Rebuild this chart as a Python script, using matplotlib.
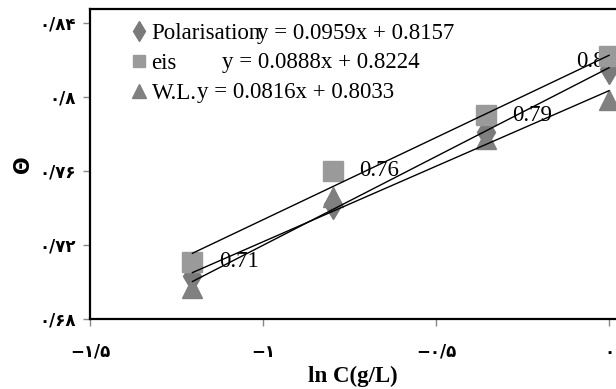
import numpy as np
import matplotlib
matplotlib.use("Agg")
import matplotlib.pyplot as plt

# ln C values (C = 0.3, 0.45, 0.7, 1 g/L)
lnc = [-1.204, -0.799, -0.357, 0.0]

polarisation = [0.703, 0.742, 0.781, 0.815]
eis = [0.711, 0.760, 0.790, 0.822]
wl = [0.697, 0.746, 0.777, 0.798]

series_names = ["Polarisation", "eis", "W.L."]
slopes = [0.0959, 0.0888, 0.0816]
intercepts = [0.8157, 0.8224, 0.8033]
eis_labels = ["0.71", "0.76", "0.79", "0.82"]

xticks = [-1.5, -1.0, -0.5, 0.0]
xticklabels = ["\u2212\u06f1/\u06f5", "\u2212\u06f1", "\u2212\u06f0/\u06f5", "\u06f0"]
yticks = [0.68, 0.72, 0.76, 0.80, 0.84]
yticklabels = ["\u06f0/\u06f6\u06f8", "\u06f0/\u06f7\u06f2", "\u06f0/\u06f7\u06f6",
               "\u06f0/\u06f8", "\u06f0/\u06f8\u06f4"]

serif = ["Liberation Serif", "DejaVu Serif"]
fs = 16.5

fig = plt.figure(figsize=(6.16, 3.89), dpi=100)
ax = fig.add_axes([90 / 616, 1 - 319 / 389, 1 - 90 / 616, 310 / 389])

ax.plot(lnc, polarisation, linestyle="none", marker="d", markersize=15,
        color="#7a7a7a", zorder=2, label=series_names[0])
ax.plot(lnc, eis, linestyle="none", marker="s", markersize=14,
        color="#9a9a9a", zorder=2, label=series_names[1])
ax.plot(lnc, wl, linestyle="none", marker="^", markersize=15,
        color="#808080", zorder=2, label=series_names[2])

# trendlines
xx = np.array([lnc[0], lnc[-1]])
for m, b in zip(slopes, intercepts):
    ax.plot(xx, m * xx + b, color="black", linewidth=1.0, zorder=3)

# data labels for eis
offsets = [(19, 0), (19, 0), (19, 0), (-24, -4)]
for x, y, s, off in zip(lnc, eis, eis_labels, offsets):
    ax.annotate(s, (x, y), xytext=off, textcoords="offset points",
                ha="left", va="center", fontsize=fs, family=serif, zorder=1)

# trendline equations
eq_pos = [(0.3175, 0.922), (0.251, 0.829), (0.203, 0.732)]
for m, b, p in zip(slopes, intercepts, eq_pos):
    ax.text(p[0], p[1], "y = %sx + %s" % (m, b), transform=ax.transAxes,
            ha="left", va="center", fontsize=fs, family=serif)

leg = ax.legend(loc="upper left", bbox_to_anchor=(0.08, 0.955), frameon=False,
                prop={"family": serif, "size": fs}, markerscale=0.65,
                handlelength=0.6, handletextpad=0.25, labelspacing=0.4,
                borderpad=0, borderaxespad=0)

ax.set_xlim(-1.5, 0.02)
ax.set_ylim(0.68, 0.8474)
ax.set_xticks(xticks)
ax.set_xticklabels(xticklabels, family=["DejaVu Sans"], fontsize=12, fontweight="bold")
ax.set_yticks(yticks)
ax.set_yticklabels(yticklabels, family=["DejaVu Sans"], fontsize=12, fontweight="bold")
ax.tick_params(direction="out", length=5, width=1, color="#888888")
ax.tick_params(axis="x", pad=12)
ax.tick_params(axis="y", pad=5)

for s in ["left", "bottom", "top"]:
    ax.spines[s].set_linewidth(1.6)
ax.spines["right"].set_visible(False)

ax.set_xlabel("ln C(g/L)", family=serif, fontsize=fs, fontweight="bold", labelpad=4)
ax.set_ylabel("\u0398", family=["DejaVu Sans"], fontsize=15, fontweight="bold", labelpad=5)

fig.savefig("out.png", dpi=100)
